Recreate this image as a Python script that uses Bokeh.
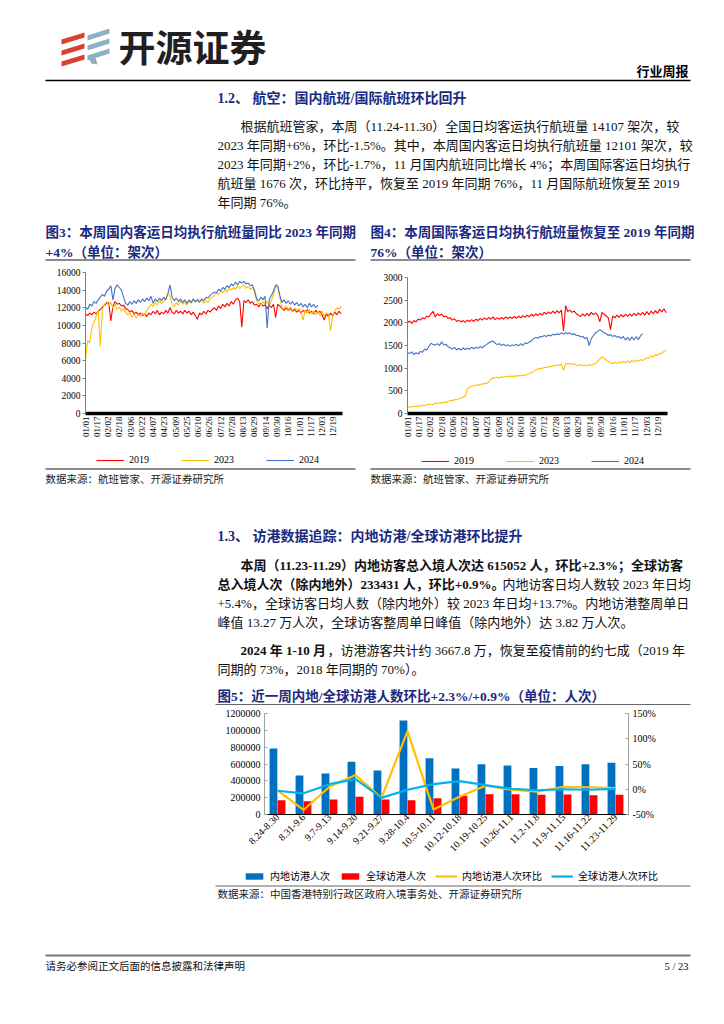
import math
from bokeh.plotting import figure
from bokeh.models import (Range1d, LinearAxis, FixedTicker, Legend, ColumnDataSource,
                          NumeralTickFormatter, FactorRange)
from bokeh.layouts import column, row
from bokeh.transform import dodge
from bokeh.embed import file_html
from bokeh.resources import INLINE
from bokeh.core.properties import value

# ---------------- data ----------------
tick_days = [0, 16, 32, 48, 64, 80, 96, 112, 128, 144, 160, 176, 192, 208, 224, 240,
             256, 272, 288, 304, 320, 336, 352]
tick_labels = ["01/01", "01/17", "02/02", "02/18", "03/06", "03/22", "04/07", "04/23",
               "05/09", "05/25", "06/10", "06/26", "07/12", "07/28", "08/13", "08/29",
               "09/14", "09/30", "10/16", "11/01", "11/17", "12/03", "12/19"]
sample_days = list(range(0, 364, 3))  # one reading every 3 days

dom_2019 = [11300, 11100, 11400, 11200, 11500, 11300, 11600, 11800, 12100, 12300,
            12500, 12600, 10500, 12200, 12700, 12400, 12500, 12200, 12300, 11900,
            11800, 11500, 11700, 11300, 11500, 11200, 11400, 11100, 11300, 11000,
            11400, 11200, 11600, 11300, 11700, 11200, 11500, 11300, 11700, 11400,
            12000, 11500, 11300, 11700, 11400, 11600, 11300, 11700, 11400, 11600,
            11200, 11500, 11100, 10700, 11400, 11200, 11600, 11300, 11700, 11500,
            11800, 12000, 11700, 12200, 11900, 12400, 12100, 12500, 12200, 12700,
            12400, 12900, 13100, 12700, 9800, 12800, 12600, 12900, 12500, 12700,
            12300, 12400, 12100, 12500, 12200, 12300, 11900, 12300, 12000, 12400,
            10900, 12400, 12200, 11900, 11700, 12000, 11700, 11900, 11600, 11800,
            11500, 11700, 11400, 11700, 11500, 11800, 11400, 11600, 11300, 11700,
            11400, 11600, 11200, 10600, 11300, 11000, 11400, 11100, 11500, 11200,
            11600, 11300]
dom_2023 = [6000, 8300, 8000, 9800, 10300, 11000, 11700, 7600, 11800, 12400,
            12700, 12200, 12600, 11900, 12400, 11800, 12100, 11600, 11900, 11500,
            11200, 11400, 10900, 11300, 10800, 11200, 11000, 11400, 11200, 11700,
            12000, 12400, 12100, 12600, 12300, 12800, 12500, 12700, 13000, 13600,
            13400, 12400, 12100, 12600, 12300, 12800, 12400, 12700, 12300, 12800,
            12500, 12900, 12600, 13000, 12700, 12900, 12500, 12800, 12600, 13000,
            13200, 13400, 13700, 13500, 13900, 13700, 14100, 13800, 14200, 14000,
            14300, 14100, 14500, 14200, 14400, 14600, 14200, 14400, 14100, 14300,
            13800, 12800, 12500, 12300, 12700, 12400, 12700, 12300, 12800, 13500,
            14400, 14300, 13200, 12000, 11900, 12200, 11800, 12100, 11700, 12000,
            11700, 11900, 11500, 10600, 11700, 11400, 11800, 11300, 11600, 11200,
            11500, 11100, 11600, 11000, 11400, 11300, 9400, 11000, 11700, 12000,
            11800, 12200]
dom_2024 = [12100, 11800, 12400, 12200, 12700, 12500, 12900, 13200, 13500, 13300,
            13900, 14100, 14500, 12900, 14200, 14600, 14300, 14000, 13200, 12500,
            12300, 12700, 12400, 12800, 12500, 12900, 12600, 13000, 12700, 13100,
            12800, 13300, 12500, 13000, 12700, 13100, 12800, 13200, 12900, 13600,
            14600, 13200, 12800, 13100, 12700, 13000, 12600, 12900, 12500, 12900,
            12600, 13000, 12700, 12900, 12600, 13000, 12800, 13200, 13100, 13400,
            13600, 13800, 13700, 14100, 13900, 14300, 14100, 14500, 14300, 14700,
            14500, 14900, 14600, 15000, 14800, 15000, 14700, 14800, 14500, 14600,
            14000, 13000, 12800, 13200, 12900, 13300, 9700, 13000, 13400, 13900,
            14600, 14500, 13400, 12600, 12900, 12500, 12800, 12400, 12700, 12300,
            12600, 12200, 12500, 12100, 12400, 12000, 12500, 12100, 12400, 12000,
            12300]

intl_2019 = [2000, 2040, 1990, 2050, 2020, 2080, 2060, 2110, 2090, 2150,
             2130, 2200, 2250, 2130, 2200, 2160, 2190, 2130, 2150, 2100,
             2110, 2060, 2090, 2030, 2060, 2020, 2050, 2010, 2060, 2030,
             2070, 2030, 2080, 2050, 2100, 2060, 2110, 2070, 2120, 2080,
             2130, 2070, 2110, 2080, 2120, 2080, 2130, 2090, 2130, 2100,
             2140, 2100, 2150, 2110, 2160, 2120, 2170, 2130, 2190, 2150,
             2200, 2160, 2210, 2170, 2230, 2190, 2240, 2200, 2260, 2210,
             2270, 2220, 2280, 1820, 2380, 2250, 2280, 2230, 2260, 2200,
             2170, 2140, 2200, 2150, 2210, 2160, 2230, 2180, 2220, 2170,
             2020, 2230, 2190, 2150, 2110, 1850, 2150, 2110, 2170, 2120,
             2180, 2130, 2190, 2140, 2200, 2150, 2210, 2160, 2220, 2170,
             2230, 2170, 2250, 2180, 2260, 2200, 2270, 2210, 2300, 2240,
             2310, 2220]
intl_2023 = [130, 150, 140, 165, 150, 175, 160, 185, 170, 195,
             200, 210, 195, 225, 215, 240, 230, 255, 245, 270,
             280, 290, 300, 310, 320, 330, 360, 390, 540, 580,
             600, 610, 630, 620, 650, 640, 670, 660, 700, 760,
             780, 790, 800, 780, 810, 800, 820, 800, 830, 810,
             830, 820, 840, 830, 850, 840, 860, 880, 900, 930,
             960, 980, 1000, 990, 1020, 1010, 1040, 1030, 1050, 1060,
             1070, 1060, 1090, 950, 1100, 1090, 1110, 1080, 1100, 1070,
             1060, 1080, 1050, 1070, 1050, 1080, 1060, 1090, 1100, 1150,
             1200, 1250, 1220, 1180, 1150, 1120, 1100, 1130, 1100, 1140,
             1110, 1150, 1120, 1160, 1130, 1170, 1140, 1180, 1150, 1190,
             1170, 1200, 1230, 1220, 1270, 1250, 1300, 1280, 1330, 1320,
             1370, 1400]
intl_2024 = [1350, 1320, 1360, 1300, 1340, 1310, 1370, 1350, 1420, 1400,
             1480, 1550, 1520, 1510, 1540, 1500, 1580, 1510, 1530, 1470,
             1450, 1420, 1460, 1400, 1440, 1400, 1450, 1410, 1440, 1420,
             1460, 1430, 1460, 1440, 1480, 1450, 1490, 1520, 1560, 1580,
             1600, 1550, 1520, 1540, 1500, 1530, 1490, 1520, 1480, 1510,
             1500, 1530, 1490, 1540, 1500, 1560, 1540, 1580, 1600, 1650,
             1680, 1660, 1700, 1690, 1720, 1700, 1730, 1710, 1750, 1730,
             1760, 1740, 1780, 1750, 1790, 1760, 1780, 1740, 1760, 1720,
             1720, 1690, 1700, 1650, 1680, 1500, 1650, 1720, 1780, 1810,
             1850, 1820, 1780, 1760, 1720, 1740, 1700, 1720, 1680, 1700,
             1650, 1700, 1620, 1680, 1610, 1690, 1620, 1700, 1630, 1710,
             1760]

weeks = ["8.24-8.30", "8.31-9.6", "9.7-9.13", "9.14-9.20", "9.21-9.27", "9.28-10.4",
         "10.5-10.11", "10.12-10.18", "10.19-10.25", "10.26-11.1", "11.2-11.8",
         "11.9-11.15", "11.16-11.22", "11.23-11.29"]
mainland = [784000, 463000, 487000, 628000, 522000, 1118000, 667000, 546000, 597000,
            581000, 553000, 577000, 598000, 615052]
global_vis = [170000, 158000, 178000, 210000, 178000, 170000, 194000, 224000, 240000,
              242000, 234000, 238000, 230000, 233431]
mainland_wow = [-0.02, -0.41, 0.05, 0.28, -0.17, 1.15, -0.40, -0.15, 0.07, -0.01,
                -0.05, 0.05, 0.04, 0.023]
global_wow = [-0.03, -0.08, 0.10, 0.20, -0.17, -0.01, 0.10, 0.16, 0.08, 0.01,
              -0.02, 0.00, -0.01, 0.009]

# ---------------- style helpers ----------------
SERIF = "Liberation Serif, Noto Sans CJK SC"
CJK = "Noto Sans CJK SC"
NAVY = "#1B2A80"
RED, GOLD, BLUE = "#FF0000", "#FFC000", "#4472C4"
BAR_BLUE, BAR_RED, CYAN = "#0070C0", "#FF0000", "#00B0F0"
PAGE_W = 724
OFF = [-1000]  # legend-key proxies sit off the page, only their swatch is shown


def page_fig(y0, y1):
    p = figure(width=PAGE_W, height=y1 - y0,
               x_range=Range1d(0, PAGE_W), y_range=Range1d(y1, y0),
               output_backend="svg", toolbar_location=None,
               x_axis_location=None, y_axis_location=None,
               min_border=0, outline_line_color=None, frame_align=False)
    p.grid.visible = False
    return p


def put(p, x, y, s, size=13, color="#111111", bold=False, align="left", font=SERIF):
    p.text(x=[x], y=[y], text=[s], text_font=value(font),
           text_font_size=value(f"{size}px"),
           text_font_style="bold" if bold else "normal", text_color=color,
           text_align=align, text_baseline="middle")


def hline(p, x0, x1, y, color="#555555", width=1.2):
    p.segment(x0=[x0], y0=[y], x1=[x1], y1=[y], line_color=color, line_width=width)


def key(p, items, x, y_bottom, font, gw, gh, spacing):
    # legend in the text band right under a chart; location is px from the band's bottom
    band_bottom = p.y_range.start
    leg = Legend(items=items, orientation="horizontal",
                 location=(x, band_bottom - y_bottom), border_line_color=None,
                 background_fill_alpha=0, label_text_font=font,
                 label_text_font_size="10px", label_text_color="#000000",
                 glyph_width=gw, glyph_height=gh, label_height=10, label_standoff=5,
                 spacing=spacing, padding=0, margin=0)
    p.add_layout(leg, "center")


# ---------------- header block (page y 0..262) ----------------
f1 = page_fig(0, 262)
red_xs, red_ys, blue_xs, blue_ys = [], [], [], []
for k in range(3):
    yt = 30 + 11 * k
    red_xs.append([61, 84, 84, 61])
    red_ys.append([yt + 9, yt + 2, yt + 7, yt + 14])
    yb = 27 + 10 * k
    blue_xs.append([87, 109, 109, 87])
    blue_ys.append([yb + 8, yb + 1, yb + 6, yb + 13])
f1.patches(red_xs, red_ys, fill_color="#D8412F", line_color=None)
f1.patches(blue_xs, blue_ys, fill_color="#8DB0C4", line_color=None)
f1.patches([[88, 95, 97, 91]], [[57, 57, 64, 63]], fill_color="#8DB0C4", line_color=None)
put(f1, 118, 45, "开源证券", size=37, color="#231F20", bold=True, font=CJK)
put(f1, 688, 71, "行业周报", size=13, color="#000000", bold=True, align="right")
hline(f1, 45, 690, 80, color="#000000", width=1.5)
put(f1, 217, 98, "1.2、 航空：国内航班/国际航班环比回升", size=14, color=NAVY, bold=True)
para1 = ["根据航班管家，本周（11.24-11.30）全国日均客运执行航班量 14107 架次，较",
         "2023 年同期+6%，环比-1.5%。其中，本周国内客运日均执行航班量 12101 架次，较",
         "2023 年同期+2%，环比-1.7%，11 月国内航班同比增长 4%；本周国际客运日均执行",
         "航班量 1676 次，环比持平，恢复至 2019 年同期 76%，11 月国际航班恢复至 2019",
         "年同期 76%。"]
for i, s in enumerate(para1):
    put(f1, 240 if i == 0 else 217, 126 + 19 * i, s, size=13)
put(f1, 45, 232, "图3：本周国内客运日均执行航班量同比 2023 年同期", size=13.5, color=NAVY, bold=True)
put(f1, 45, 252, "+4%（单位：架次）", size=13.5, color=NAVY, bold=True)
put(f1, 370, 232, "图4：本周国际客运日均执行航班量恢复至 2019 年同期", size=13.5, color=NAVY, bold=True)
put(f1, 370, 252, "76%（单位：架次）", size=13.5, color=NAVY, bold=True)
hline(f1, 45, 355, 259.5, color="#666666", width=1.5)
hline(f1, 370, 690, 259.5, color="#666666", width=1.5)


# ---------------- line charts (page y 262..452) ----------------
def line_chart(w, ml, mr, mt, mb, ymax, ystep, s19, s23, s24):
    p = figure(width=w, height=190, x_range=Range1d(0, 365), y_range=Range1d(0, ymax),
               output_backend="svg", toolbar_location=None, outline_line_color=None,
               min_border_left=ml, min_border_right=mr, min_border_top=mt,
               min_border_bottom=mb, frame_align=False)
    p.grid.visible = False
    p.line(sample_days, s19, line_color=RED, line_width=1.1)
    p.line(sample_days, s23, line_color=GOLD, line_width=1.1)
    p.line(sample_days[:len(s24)], s24, line_color=BLUE, line_width=1.1)
    ya = p.yaxis[0]
    ya.ticker = FixedTicker(ticks=list(range(0, ymax + 1, ystep)))
    ya.formatter = NumeralTickFormatter(format="0")
    ya.axis_line_color = "#808080"
    ya.major_tick_line_color = "#808080"
    ya.major_tick_out = 3
    ya.major_tick_in = 0
    ya.minor_tick_line_color = None
    ya.major_label_text_font = "Liberation Serif"
    ya.major_label_text_font_size = "9.5px"
    ya.major_label_text_color = "#000000"
    ya.major_label_standoff = 2
    xa = p.xaxis[0]
    xa.ticker = FixedTicker(ticks=tick_days)
    xa.major_label_overrides = {d: lab for d, lab in zip(tick_days, tick_labels)}
    xa.major_label_orientation = math.pi / 2
    xa.axis_line_color = "#000000"
    xa.axis_line_width = 3.5
    xa.major_tick_line_color = None
    xa.major_tick_out = 0
    xa.major_tick_in = 0
    xa.minor_tick_line_color = None
    xa.minor_tick_out = 0
    xa.axis_label_standoff = 0
    xa.major_label_text_font = "Liberation Serif"
    xa.major_label_text_font_size = "9px"
    xa.major_label_text_color = "#000000"
    xa.major_label_standoff = 3
    return p


c3 = line_chart(362, 85, 20, 10, 39, 16000, 2000, dom_2019, dom_2023, dom_2024)
c4 = line_chart(362, 45, 57, 15, 39, 3000, 500, intl_2019, intl_2023, intl_2024)

# ---------------- middle text block (page y 452..706) ----------------
f3 = page_fig(452, 706)
# keys of 图3 / 图4 (same line styles as the chart lines)
k19 = f3.line(x=OFF, y=OFF, line_color=RED, line_width=1.1)
k23 = f3.line(x=OFF, y=OFF, line_color=GOLD, line_width=1.1)
k24 = f3.line(x=OFF, y=OFF, line_color=BLUE, line_width=1.1)
year_items = [("2019", [k19]), ("2023", [k23]), ("2024", [k24])]
key(f3, year_items, 96, 465, "Liberation Serif", 28, 10, 32)
key(f3, year_items, 421, 466, "Liberation Serif", 28, 10, 32)
hline(f3, 45, 355, 468.5, color="#666666", width=1.5)
hline(f3, 370, 690, 468.5, color="#666666", width=1.5)
put(f3, 45, 479, "数据来源：航班管家、开源证券研究所", size=10.5, color="#222222")
put(f3, 370, 479, "数据来源：航班管家、开源证券研究所", size=10.5, color="#222222")
put(f3, 217, 536, "1.3、 访港数据追踪：内地访港/全球访港环比提升", size=14, color=NAVY, bold=True)
put(f3, 240, 565, "本周（11.23-11.29）内地访客总入境人次达 615052 人，环比+2.3%；全球访客", bold=True)
put(f3, 217, 584, "总入境人次（除内地外）233431 人，环比+0.9%。", bold=True)
put(f3, 502, 584, "内地访客日均人数较 2023 年日均")
put(f3, 217, 603, "+5.4%，全球访客日均人数（除内地外）较 2023 年日均+13.7%。内地访港整周单日")
put(f3, 217, 622, "峰值 13.27 万人次，全球访客整周单日峰值（除内地外）达 3.82 万人次。")
put(f3, 240, 650, "2024 年 1-10 月", bold=True)
put(f3, 327, 650, "，访港游客共计约 3667.8 万，恢复至疫情前的约七成（2019 年")
put(f3, 217, 669, "同期的 73%，2018 年同期的 70%）。")
put(f3, 217, 696, "图5：近一周内地/全球访港人数环比+2.3%/+0.9%（单位：人次）", size=13.5, color=NAVY, bold=True)
hline(f3, 215, 690, 704, color="#666666", width=1.2)

# ---------------- bar chart (page y 706..868) ----------------
src = ColumnDataSource(dict(week=weeks, mainland=mainland, global_vis=global_vis,
                            mainland_wow=mainland_wow, global_wow=global_wow))
c5 = figure(width=PAGE_W, height=162, x_range=FactorRange(factors=weeks, range_padding=0),
            y_range=Range1d(0, 1200000), output_backend="svg", toolbar_location=None,
            outline_line_color=None, min_border_left=264, min_border_right=96,
            min_border_top=7, min_border_bottom=54, frame_align=False)
c5.grid.visible = False
c5.extra_y_ranges = {"pct": Range1d(-0.5, 1.5)}
c5.vbar(x=dodge("week", -0.155, range=c5.x_range), top="mainland", width=0.3,
        source=src, fill_color=BAR_BLUE, line_color=None)
c5.vbar(x=dodge("week", 0.155, range=c5.x_range), top="global_vis", width=0.3,
        source=src, fill_color=BAR_RED, line_color=None)
c5.line(x="week", y="mainland_wow", source=src, y_range_name="pct",
        line_color=GOLD, line_width=2.2)
c5.line(x="week", y="global_wow", source=src, y_range_name="pct",
        line_color=CYAN, line_width=2.2)
pa = LinearAxis(y_range_name="pct")
c5.add_layout(pa, "right")
for ax, ticks, fmt in ((c5.yaxis[0], list(range(0, 1200001, 200000)), "0"),
                       (pa, [-0.5, 0, 0.5, 1.0, 1.5], "0%")):
    ax.ticker = FixedTicker(ticks=ticks)
    ax.formatter = NumeralTickFormatter(format=fmt)
    ax.axis_line_color = "#A0A0A0"
    ax.major_tick_line_color = "#A0A0A0"
    ax.major_tick_in = 3
    ax.major_tick_out = 0
    ax.minor_tick_line_color = None
    ax.major_label_text_font = "Liberation Serif"
    ax.major_label_text_font_size = "10px"
    ax.major_label_text_color = "#000000"
    ax.major_label_standoff = 4
xa5 = c5.xaxis[0]
xa5.major_label_orientation = math.pi / 4
xa5.axis_line_color = "#000000"
xa5.axis_line_width = 1
xa5.major_tick_line_color = None
xa5.major_tick_out = 0
xa5.major_tick_in = 0
xa5.axis_label_standoff = 0
xa5.major_label_text_font = "Liberation Serif"
xa5.major_label_text_font_size = "10px"
xa5.major_label_text_color = "#000000"
xa5.major_label_standoff = 1

# ---------------- footer block (page y 868..1020) ----------------
f5 = page_fig(868, 1020)
kb1 = f5.vbar(x=OFF, top=OFF, width=1, fill_color=BAR_BLUE, line_color=None)
kb2 = f5.vbar(x=OFF, top=OFF, width=1, fill_color=BAR_RED, line_color=None)
kl1 = f5.line(x=OFF, y=OFF, line_color=GOLD, line_width=2.2)
kl2 = f5.line(x=OFF, y=OFF, line_color=CYAN, line_width=2.2)
key(f5, [("内地访港人次", [kb1]), ("全球访港人次", [kb2]),
         ("内地访港人次环比", [kl1]), ("全球访港人次环比", [kl2])],
    243, 883, CJK, 22, 8, 9)
hline(f5, 215, 690, 885.5, color="#666666", width=1.2)
put(f5, 217, 894, "数据来源：中国香港特别行政区政府入境事务处、开源证券研究所", size=10.5, color="#222222")
hline(f5, 45, 690, 955, color="#777777", width=2)
put(f5, 45, 966, "请务必参阅正文后面的信息披露和法律声明", size=10.5, color="#111111")
put(f5, 688, 966, "5 / 23", size=10.5, color="#111111", align="right")

layout = column(f1, row(c3, c4), f3, c5, f5)
open("out.html", "w").write(file_html(layout, INLINE))
